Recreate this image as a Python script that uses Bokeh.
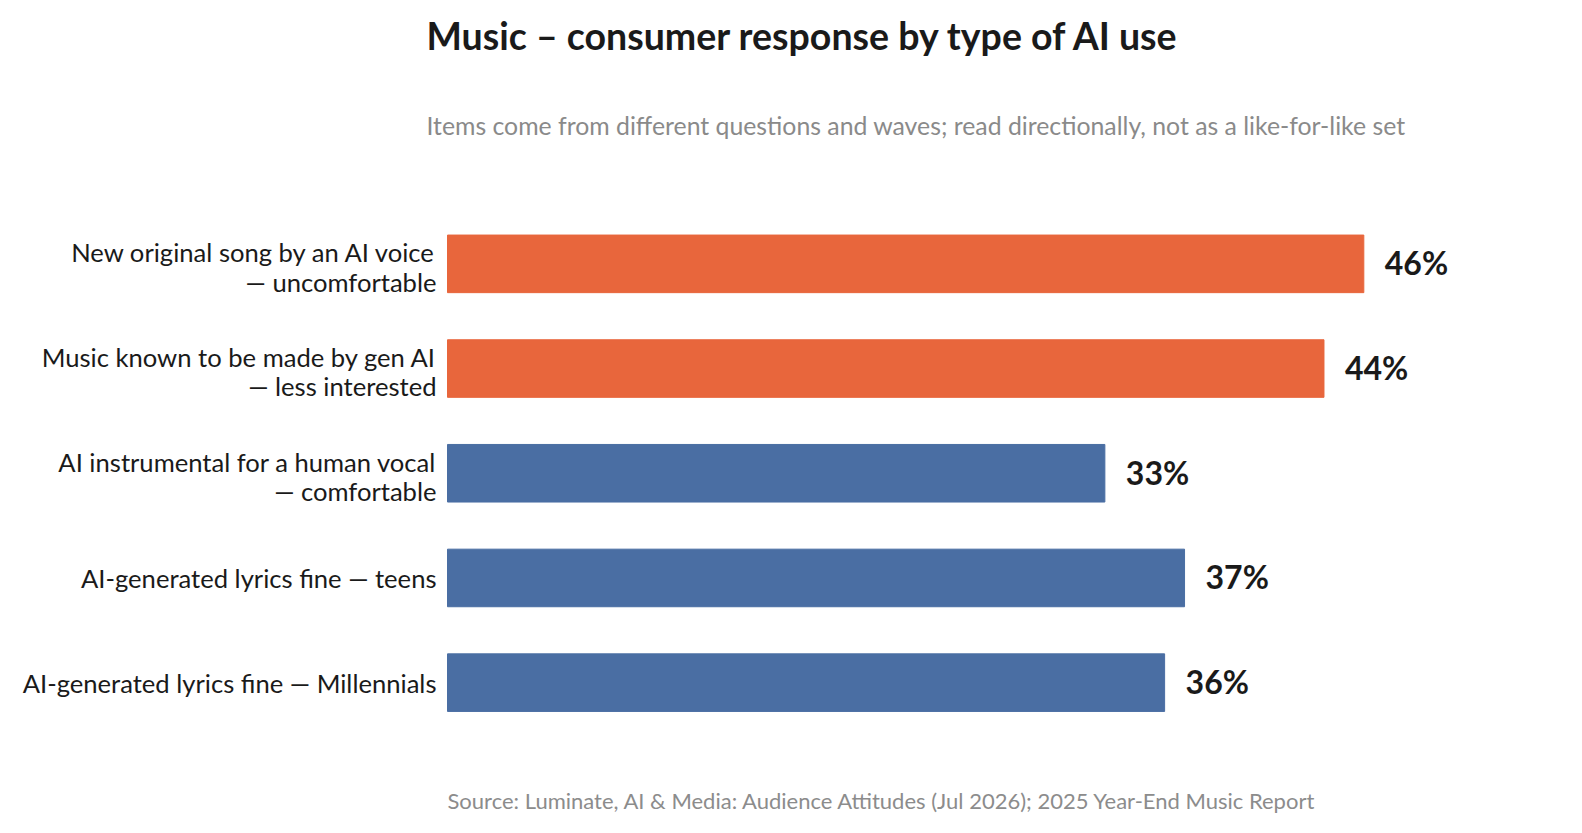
from bokeh.plotting import figure
from bokeh.models import ColumnDataSource, LabelSet, Range1d
from bokeh.core.properties import value
from bokeh.embed import file_html
from bokeh.resources import INLINE

# ---- data ----
categories = [
    "New original song by an AI voice\n— uncomfortable",
    "Music known to be made by gen AI\n— less interested",
    "AI instrumental for a human vocal\n— comfortable",
    "AI-generated lyrics fine — teens",
    "AI-generated lyrics fine — Millennials",
]
values = [46, 44, 33, 37, 36]
response = ["negative", "negative", "positive", "positive", "positive"]
value_labels = [f"{v}%" for v in values]

title_text = "Music – consumer response by type of AI use"
subtitle_text = "Items come from different questions and waves; read directionally, not as a like-for-like set"
source_text = "Source: Luminate, AI & Media: Audience Attitudes (Jul 2026); 2025 Year-End Music Report"

palette = {"negative": "#E8663C", "positive": "#4A6EA3"}

# ---- layout (pixels) ----
W, H = 1566, 817
X0 = 447.0      # pixel position of value 0
SX = 19.92      # pixels per percentage point
Y_TOP = 211.0   # pixel position of the top of the first category band
SY = 104.7      # pixels per category band
n = len(categories)

FONT = "Lato"

ys = [n - 0.5 - i for i in range(n)]

def py(pix):
    """pixel row -> y data value"""
    return n + (Y_TOP - pix) / SY

src = ColumnDataSource(dict(
    y=ys, value=values, color=[palette[r] for r in response],
    vlabel=value_labels,
    vy=[y - 11.5 / SY for y in ys],
))

p = figure(width=W, height=H,
           x_range=Range1d(-X0 / SX, (W - X0) / SX),
           y_range=Range1d(py(H), py(0)),
           output_backend="svg", toolbar_location=None,
           min_border=0)
p.title.visible = False
p.axis.visible = False
p.grid.visible = False
p.outline_line_color = None
p.background_fill_color = "white"
p.border_fill_color = "white"

p.hbar(y="y", left=0, right="value", height=0.55, color="color", source=src)

# value labels
p.add_layout(LabelSet(x="value", y="vy", text="vlabel", source=src, x_offset=21,
                      text_font=value(FONT), text_font_style="bold",
                      text_font_size="32px", text_color="#1a1a1a",
                      text_baseline="alphabetic", text_align="left"))

# category labels, one row per text line
lx, ly, lt = [], [], []
for cat, y in zip(categories, ys):
    lines = cat.split("\n")
    k = len(lines)
    for j, line in enumerate(lines):
        off = 9.9 - (k - 1) * 11.5 + j * 29.3
        lx.append(0)
        ly.append(y - off / SY)
        lt.append(line)
lsrc = ColumnDataSource(dict(x=lx, y=ly, text=lt))
p.add_layout(LabelSet(x="x", y="y", text="text", source=lsrc, x_offset=-11,
                      text_font=value(FONT), text_font_size="25.6px", text_color="#1a1a1a",
                      text_baseline="alphabetic", text_align="right"))

# titles and source note
def note(text, baseline_px, x_offset, size, color, bold=False):
    s = ColumnDataSource(dict(x=[0], y=[py(baseline_px)], text=[text]))
    p.add_layout(LabelSet(x="x", y="y", text="text", source=s, x_offset=x_offset,
                          text_font=value(FONT), text_font_size=size,
                          text_font_style="bold" if bold else "normal",
                          text_color=color, text_baseline="alphabetic", text_align="left"))

note(title_text, 49.3, -21, "37.5px", "#1a1a1a", bold=True)
note(subtitle_text, 134, -21, "24.8px", "#8a8a8a")
note(source_text, 808.3, 0, "22px", "#8c8c8c")

open("out.html", "w").write(file_html(p, INLINE))
